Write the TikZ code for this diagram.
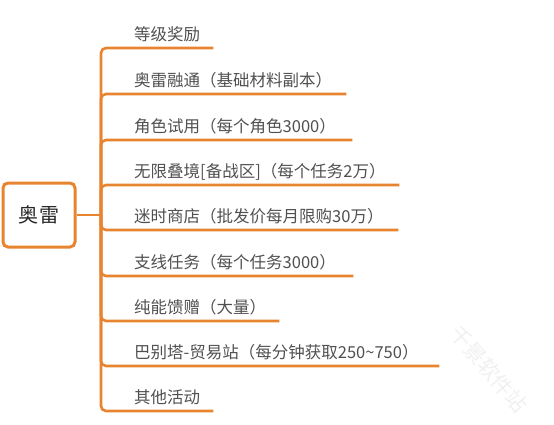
\documentclass[tikz,border=0pt]{standalone}
\usepackage{fontspec}
\setmainfont{Noto Sans CJK SC}
\usetikzlibrary{positioning}
\definecolor{oline}{RGB}{232,132,48}
\definecolor{leaftext}{RGB}{80,80,80}

\begin{document}
\begin{tikzpicture}[x=1pt, y=-1pt,
    root/.style={rectangle, draw=oline, line width=3pt, rounded corners=5pt, minimum width=72pt, minimum height=64pt, font=\fontsize{20}{24}\selectfont, text=black!85},
    leaf/.style={anchor=south west, inner xsep=0pt, inner ysep=0pt, text depth=7pt, align=left, font=\fontsize{16.5}{19}\selectfont, text=leaftext},
    branch/.style={draw=oline, line width=2.6pt, rounded corners=5pt},
    wmark/.style={rotate=-49, text=gray!12, font=\fontsize{21}{24}\selectfont}
]
    \useasboundingbox (0,0) rectangle (554,424);

    \node[root] (aolei) at (39,215) {奥雷};
    \coordinate (hub) at (101,215);

    \node[leaf, text width=79pt] (lv) at (134,48) {等级奖励};
    \node[leaf, text width=212pt] (rongtong) at (134,94) {奥雷融通（基础材料副本）};
    \node[leaf, text width=218pt] (shiyong) at (134,140) {角色试用（每个角色3000）};
    \node[leaf, text width=265pt] (wuxian) at (134,185) {无限叠境[备战区]（每个任务2万）};
    \node[leaf, text width=264pt] (shangdian) at (134,230) {迷时商店（批发价每月限购30万）};
    \node[leaf, text width=219pt] (zhixian) at (134,276) {支线任务（每个任务3000）};
    \node[leaf, text width=145pt] (kuizeng) at (134,321) {纯能馈赠（大量）};
    \node[leaf, text width=305pt] (babie) at (134,366) {巴别塔-贸易站（每分钟获取250\textasciitilde750）};
    \node[leaf, text width=79pt] (qita) at (134,411) {其他活动};

    \node[wmark] (wm) at (489,369) {千景软件站};

    \draw[branch] (aolei) -- (hub);
    \draw[branch] (hub) |- (lv.south east);
    \draw[branch] (hub) |- (rongtong.south east);
    \draw[branch] (hub) |- (shiyong.south east);
    \draw[branch] (hub) |- (wuxian.south east);
    \draw[branch] (hub) |- (shangdian.south east);
    \draw[branch] (hub) |- (zhixian.south east);
    \draw[branch] (hub) |- (kuizeng.south east);
    \draw[branch] (hub) |- (babie.south east);
    \draw[branch] (hub) |- (qita.south east);
\end{tikzpicture}
\end{document}
